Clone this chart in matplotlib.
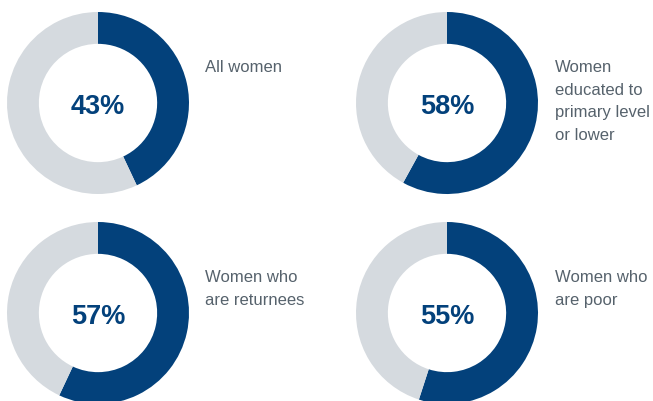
import matplotlib.pyplot as plt

# valores (percentagem) e legendas
values = [43, 58, 57, 55]
labels = [
    "All women",
    "Women\neducated to\nprimary level\nor lower",
    "Women who\nare returnees",
    "Women who\nare poor",
]

BLUE = "#03417b"
GREY = "#d5dadf"
TEXT = "#56626c"

W, H = 653, 402
fig = plt.figure(figsize=(W / 100, H / 100), dpi=100)
fig.patch.set_facecolor("white")

# centros dos donuts em pixels (x, y a partir do topo)
centers = [(98, 104), (447, 104), (98, 314), (447, 314)]
label_pos = [(205, 60), (555, 60), (205, 270), (555, 270)]
R = 91

font = ["Liberation Sans", "DejaVu Sans"]

for v, lab, (cx, cy), (lx, ly) in zip(values, labels, centers, label_pos):
    ax = fig.add_axes([(cx - R) / W, (H - cy - R) / H, 2 * R / W, 2 * R / H])
    ax.pie(
        [v, 100 - v],
        colors=[BLUE, GREY],
        startangle=90,
        counterclock=False,
        radius=1,
        wedgeprops=dict(width=0.35, edgecolor="none"),
    )
    ax.set_xlim(-1, 1)
    ax.set_ylim(-1, 1)
    ax.set_aspect("auto")
    ax.axis("off")
    ax.text(0, -0.03, f"{v}%", ha="center", va="center", fontsize=19.5,
            fontweight="bold", color=BLUE, family=font)

    fig.text(lx / W, 1 - ly / H, lab, ha="left", va="top", fontsize=12,
             color=TEXT, family=font, linespacing=1.63)

fig.savefig("out.png", dpi=100)
